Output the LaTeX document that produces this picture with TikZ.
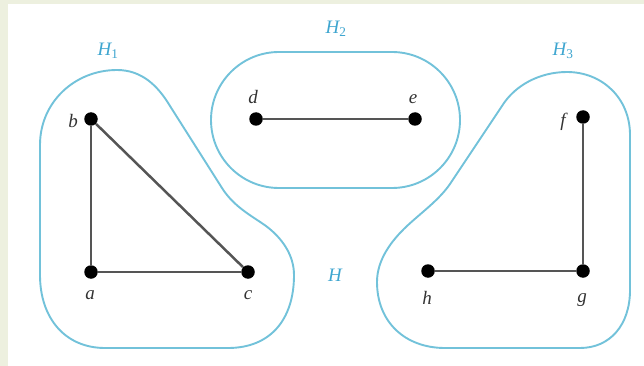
\documentclass[tikz,border=0pt]{standalone}
\usepackage{fontspec}
\setmainfont{Liberation Serif}
\definecolor{hullblue}{HTML}{72C2DA}
\definecolor{hblue}{HTML}{3FA6D0}
\definecolor{edgegray}{HTML}{555555}
\definecolor{labgray}{HTML}{333333}
\definecolor{stripc}{HTML}{EDF0DF}
\begin{document}
\begin{tikzpicture}[x=1pt,y=-1pt,
  hull/.style={draw=hullblue, line width=1.9pt},
  edge/.style={draw=edgegray, line width=2.5pt},
  vtx/.style={circle, fill=black, inner sep=0pt, minimum size=13.5pt},
  vlab/.style={font=\fontsize{19}{19}\selectfont\itshape, text=labgray, inner sep=0pt},
  hlab/.style={font=\fontsize{19}{19}\selectfont\itshape, text=hblue, inner sep=0pt}]
\useasboundingbox (0,0) rectangle (644,366);
\fill[white] (0,0) rectangle (644,366);
\fill[stripc] (0,0) rectangle (8,366);
\fill[stripc] (0,0) rectangle (644,4);

% hulls
\draw[hull] (40,275) -- (40,145)
  .. controls (40,102) and (75,70) .. (117,70)
  .. controls (142,70) and (158,86) .. (170,106)
  -- (222,188)
  .. controls (234,207) and (252,216) .. (266,226)
  .. controls (282,238) and (294,255) .. (294,275)
  .. controls (294,320) and (270,348) .. (228,348)
  -- (105,348)
  .. controls (65,348) and (40,318) .. (40,275) -- cycle;
\draw[hull, rounded corners=68pt] (211,52) rectangle (460,188);
\draw[hull] (630,290) -- (630,135)
  .. controls (630,98) and (602,72) .. (567,72)
  .. controls (540,72) and (515,85) .. (502,106)
  -- (450,184)
  .. controls (439,200) and (422,212) .. (407,226)
  .. controls (391,241) and (377,260) .. (377,282)
  .. controls (377,322) and (405,348) .. (445,348)
  -- (580,348)
  .. controls (610,348) and (630,325) .. (630,290) -- cycle;

% vertices
\node[vtx] (a) at (91,272) {};
\node[vtx] (b) at (91,119) {};
\node[vtx] (c) at (248,272) {};
\node[vtx] (d) at (256,119) {};
\node[vtx] (e) at (415,119) {};
\node[vtx] (f) at (583,117) {};
\node[vtx] (g) at (583,271) {};
\node[vtx] (h) at (428,271) {};

% edges
\draw[edge] (a) -- (b);
\draw[edge] (b) -- (c);
\draw[edge] (a) -- (c);
\draw[edge] (d) -- (e);
\draw[edge] (f) -- (g);
\draw[edge] (h) -- (g);

% vertex labels
\node[vlab] (la) at (90,295) {a};
\node[vlab] (lb) at (73,121) {b};
\node[vlab] (lc) at (248,295) {c};
\node[vlab] (ld) at (253,97) {d};
\node[vlab] (le) at (413,99) {e};
\node[vlab] (lf) at (563,122) {f};
\node[vlab] (lg) at (582,300) {g};
\node[vlab] (lh) at (427,298) {h};

% subgraph labels
\node[hlab] (H1) at (108,51) {H\textsubscript{\upshape 1}};
\node[hlab] (H2) at (336,29) {H\textsubscript{\upshape 2}};
\node[hlab] (H3) at (563,51) {H\textsubscript{\upshape 3}};
\node[hlab] (H) at (335,275) {H};
\end{tikzpicture}
\end{document}
